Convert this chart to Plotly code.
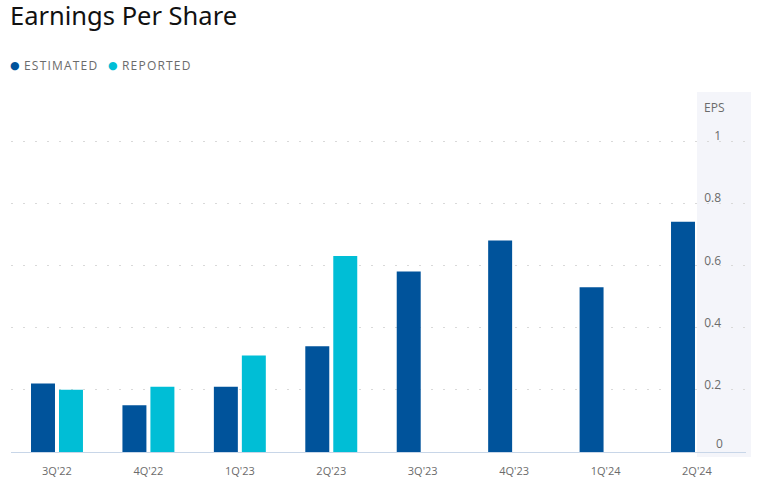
import plotly.graph_objects as go

quarters = ["3Q'22", "4Q'22", "1Q'23", "2Q'23", "3Q'23", "4Q'23", "1Q'24", "2Q'24"]
estimated = [0.22, 0.15, 0.21, 0.34, 0.58, 0.68, 0.53, 0.74]
reported = [0.20, 0.21, 0.31, 0.63, None, None, None, None]
y_ticks = [0, 0.2, 0.4, 0.6, 0.8, 1]
y_tick_text = ["0", "0.2", "0.4", "0.6", "0.8", "1"]
series_names = ["ESTIMATED", "REPORTED"]

EST_COLOR = "#00539B"
REP_COLOR = "#00BED6"
TXT = "#6b6b6b"
FONT = "Open Sans"

fig = go.Figure()
fig.add_trace(go.Bar(x=quarters, y=estimated, name=series_names[0], marker_color=EST_COLOR,
                     marker_line_width=0, showlegend=False))
fig.add_trace(go.Bar(x=quarters, y=reported, name=series_names[1], marker_color=REP_COLOR,
                     marker_line_width=0, showlegend=False))

L, R, T, B = 11, 31, 92, 27
W, H = 777, 479
pw = W - L - R
ph = H - T - B


def spaced(s):
    return "\u200a".join(s)


anns = [dict(text="EPS", xref="paper", yref="paper", x=(726 - L) / pw, xanchor="right",
             y=(452 - 108) / ph, yanchor="middle", showarrow=False,
             font=dict(size=12, color=TXT, family=FONT)),
        dict(text=y_tick_text[0], xref="paper", yref="y", x=(725 - L) / pw, xanchor="right",
             y=y_ticks[0], yanchor="middle", yshift=9, showarrow=False,
             font=dict(size=12, color=TXT, family=FONT))]
for name, color, dot_x, txt_x in [(series_names[0], EST_COLOR, 15, 22),
                                  (series_names[1], REP_COLOR, 113, 120)]:
    anns.append(dict(text="●", xref="paper", yref="paper", x=(dot_x - L) / pw, xanchor="center",
                     y=(452 - 65) / ph, yanchor="middle", showarrow=False,
                     font=dict(size=11, color=color, family="DejaVu Sans")))
    anns.append(dict(text=spaced(name), xref="paper", yref="paper", x=(txt_x - L) / pw,
                     xanchor="left", y=(452 - 65) / ph, yanchor="middle", showarrow=False,
                     font=dict(size=12, color=TXT, family=FONT)))

fig.update_layout(
    width=W, height=H,
    margin=dict(l=L, r=R, t=T, b=B, pad=0),
    paper_bgcolor="white", plot_bgcolor="white",
    barmode="group", bargap=0.388, bargroupgap=0.143,
    font=dict(family=FONT, color=TXT),
    showlegend=False,
    title=dict(text="Earnings Per Share", x=10 / W, xanchor="left", xref="container",
               y=1 - 7 / H, yanchor="top", yref="container",
               font=dict(family="Noto Sans", size=25.5, color="#111111"), pad=dict(t=0, l=0)),
    xaxis=dict(range=[-0.503, 7.536], showgrid=False, showline=True, linecolor="#c8d6e8",
               linewidth=1, ticks="", tickfont=dict(size=11, color=TXT, family=FONT),
               ticklabelstandoff=9, automargin=False, fixedrange=True),
    yaxis=dict(range=[0, ph / 311.0], side="right", ticklabelposition="inside",
               tickvals=y_ticks, ticktext=y_tick_text, showgrid=True, gridcolor="#d9d9d9",
               griddash="2px,10px", gridwidth=1, zeroline=False, showline=False, ticks="",
               tickfont=dict(size=12, color=TXT, family=FONT), automargin=False,
               ticklabelstandoff=22, ticklabelshift=-5, fixedrange=True),
    shapes=[dict(type="rect", xref="paper", yref="paper",
                 x0=(697 - L) / pw, x1=(751 - L) / pw, y0=-5 / ph, y1=1,
                 fillcolor="#f4f5fa", line_width=0, layer="below")],
    annotations=anns,
)

fig.write_html("out.html")
